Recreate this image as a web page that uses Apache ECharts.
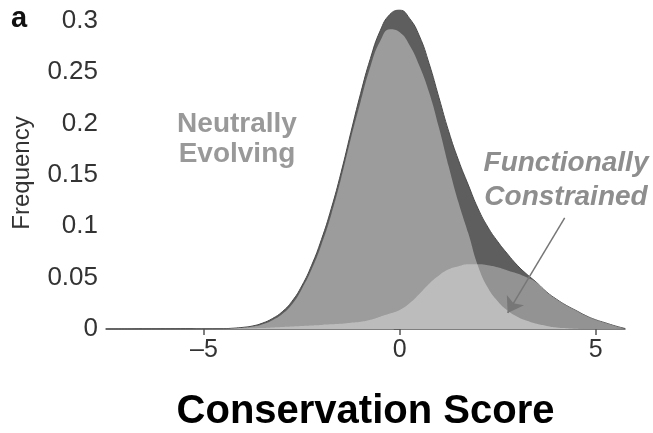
<!DOCTYPE html>
<html><head><meta charset="utf-8">
<script src="https://cdn.jsdelivr.net/npm/echarts@6/dist/echarts.min.js"></script>
<style>html,body{margin:0;padding:0;background:#fff}#c{width:653px;height:433px}</style>
</head><body><div id="c"></div><script>
// Conservation score grid (x values)
const xValues = [-7.5, -4.5, -4.25, -4, -3.75, -3.5, -3.25, -3, -2.75, -2.5, -2.25, -2, -1.75, -1.5, -1.25, -1, -0.75, -0.5, -0.25,
  0, 0.25, 0.5, 0.75, 1, 1.25, 1.5, 1.75, 2, 2.25, 2.5, 2.75, 3, 3.25, 3.5, 3.75, 4, 4.25, 4.5, 4.75, 5, 5.25, 5.5, 5.75];
// All sequences (dark outer curve)
const totalFreq = [0, 0.0004, 0.0008, 0.0016, 0.003, 0.0058, 0.0102, 0.0168, 0.027, 0.042, 0.062, 0.087, 0.117, 0.152, 0.191, 0.229, 0.263, 0.290, 0.306,
  0.310, 0.302, 0.285, 0.258, 0.225, 0.192, 0.164, 0.140, 0.117, 0.099, 0.085, 0.073, 0.062, 0.053, 0.045, 0.036, 0.029, 0.023, 0.018, 0.013, 0.009, 0.006, 0.003, 0.0005];
// Neutrally evolving
const neutralFreq = [0, 0.0003, 0.0006, 0.0012, 0.0024, 0.0046, 0.0086, 0.0145, 0.024, 0.039, 0.058, 0.082, 0.111, 0.146, 0.185, 0.221, 0.255, 0.280, 0.2915,
  0.2885, 0.276, 0.256, 0.230, 0.196, 0.158, 0.123, 0.093, 0.061, 0.040, 0.027, 0.018, 0.012, 0.008, 0.005, 0.003, 0.0015, 0.0008, 0.0003, 0, 0, 0, 0, 0];
// Functionally constrained
const constrainedFreq = [0, 0, 0.0003, 0.0005, 0.0008, 0.001, 0.0015, 0.002, 0.0025, 0.003, 0.0035, 0.004, 0.0045, 0.005, 0.006, 0.007, 0.009, 0.012, 0.015,
  0.0185, 0.025, 0.034, 0.044, 0.052, 0.058, 0.061, 0.063, 0.063, 0.062, 0.060, 0.057, 0.054, 0.050, 0.045, 0.036, 0.029, 0.023, 0.018, 0.013, 0.009, 0.006, 0.003, 0.0005];
const xTickValues = [-5, 0, 5];
const yTickLabels = ['0', '0.05', '0.1', '0.15', '0.2', '0.25', '0.3'];
const arrowFrom = [4.21, 0.108];
const arrowTo = [2.755, 0.0156];

const FONT = '"Liberation Sans", Arial, Helvetica, sans-serif';
const pairs = arr => xValues.map((x, i) => [x, arr[i]]);

const chart = echarts.init(document.getElementById('c'), null, {renderer: 'canvas'});
chart.setOption({
  animation: false,
  backgroundColor: '#ffffff',
  grid: {left: 106, right: 28, top: 20.5, bottom: 104, containLabel: false, outerBoundsMode: 'none'},
  xAxis: {
    type: 'value', min: -7.5, max: 5.75,
    axisLine: {onZero: false, lineStyle: {color: '#555', width: 1.5}},
    axisTick: {show: true, customValues: xTickValues, length: 6, lineStyle: {color: '#555', width: 1.5}},
    axisLabel: {customValues: xTickValues, formatter: v => String(v).replace('-', '\u2013'),
      fontSize: 25, color: '#333', margin: 9, fontFamily: FONT},
    splitLine: {show: false},
    name: 'Conservation Score', nameLocation: 'middle', nameGap: 63,
    nameTextStyle: {fontSize: 40, fontWeight: 'bold', color: '#000', fontFamily: FONT}
  },
  yAxis: {
    type: 'value', min: 0, max: 0.3, interval: 0.05,
    axisLine: {show: true, lineStyle: {color: '#555', width: 1.5}},
    axisTick: {show: true, length: 6, lineStyle: {color: '#555', width: 1.5}},
    axisLabel: {formatter: (v, i) => yTickLabels[i], fontSize: 26, color: '#333', margin: 8, fontFamily: FONT},
    splitLine: {show: false}
  },
  series: [
    {type: 'line', name: 'All', data: pairs(totalFreq), smooth: 0.5, showSymbol: false, clip: false,
      lineStyle: {color: '#4a4a4a', width: 1}, areaStyle: {color: '#5e5e5e', opacity: 1}, z: 2},
    {type: 'line', name: 'Neutrally Evolving', data: pairs(neutralFreq), smooth: 0.5, showSymbol: false, clip: false,
      lineStyle: {width: 0}, areaStyle: {color: '#9c9c9c', opacity: 1}, z: 3},
    {type: 'line', name: 'Functionally Constrained', data: pairs(constrainedFreq), smooth: 0.5, showSymbol: false, clip: false,
      lineStyle: {width: 0}, areaStyle: {color: 'rgba(255,255,255,0.33)', opacity: 1}, z: 4,
      markLine: {silent: true, animation: false, symbolSize: 15,
        label: {show: false}, lineStyle: {color: '#777', width: 1.5, type: 'solid'},
        data: [[{coord: arrowFrom, symbol: 'none'}, {coord: arrowTo, symbol: 'arrow'}]]}}
  ],
  graphic: [
    {type: 'text', x: 11, y: 18.5, style: {text: 'a', font: 'bold 29px ' + FONT, fill: '#111', textAlign: 'left', textVerticalAlign: 'middle'}},
    {type: 'text', x: 22, y: 173, rotation: Math.PI / 2, style: {text: 'Frequency', font: '24px ' + FONT, fill: '#333', textAlign: 'center', textVerticalAlign: 'middle'}},
    {type: 'text', x: 237, y: 139, style: {text: 'Neutrally\nEvolving', font: 'bold 28px ' + FONT, fill: '#999', textAlign: 'center', textVerticalAlign: 'middle', lineHeight: 30}},
    {type: 'text', x: 566, y: 180, style: {text: 'Functionally\nConstrained', font: 'italic bold 28px ' + FONT, fill: '#8e8e8e', textAlign: 'center', textVerticalAlign: 'middle', lineHeight: 34}}
  ]
});
</script></body></html>
